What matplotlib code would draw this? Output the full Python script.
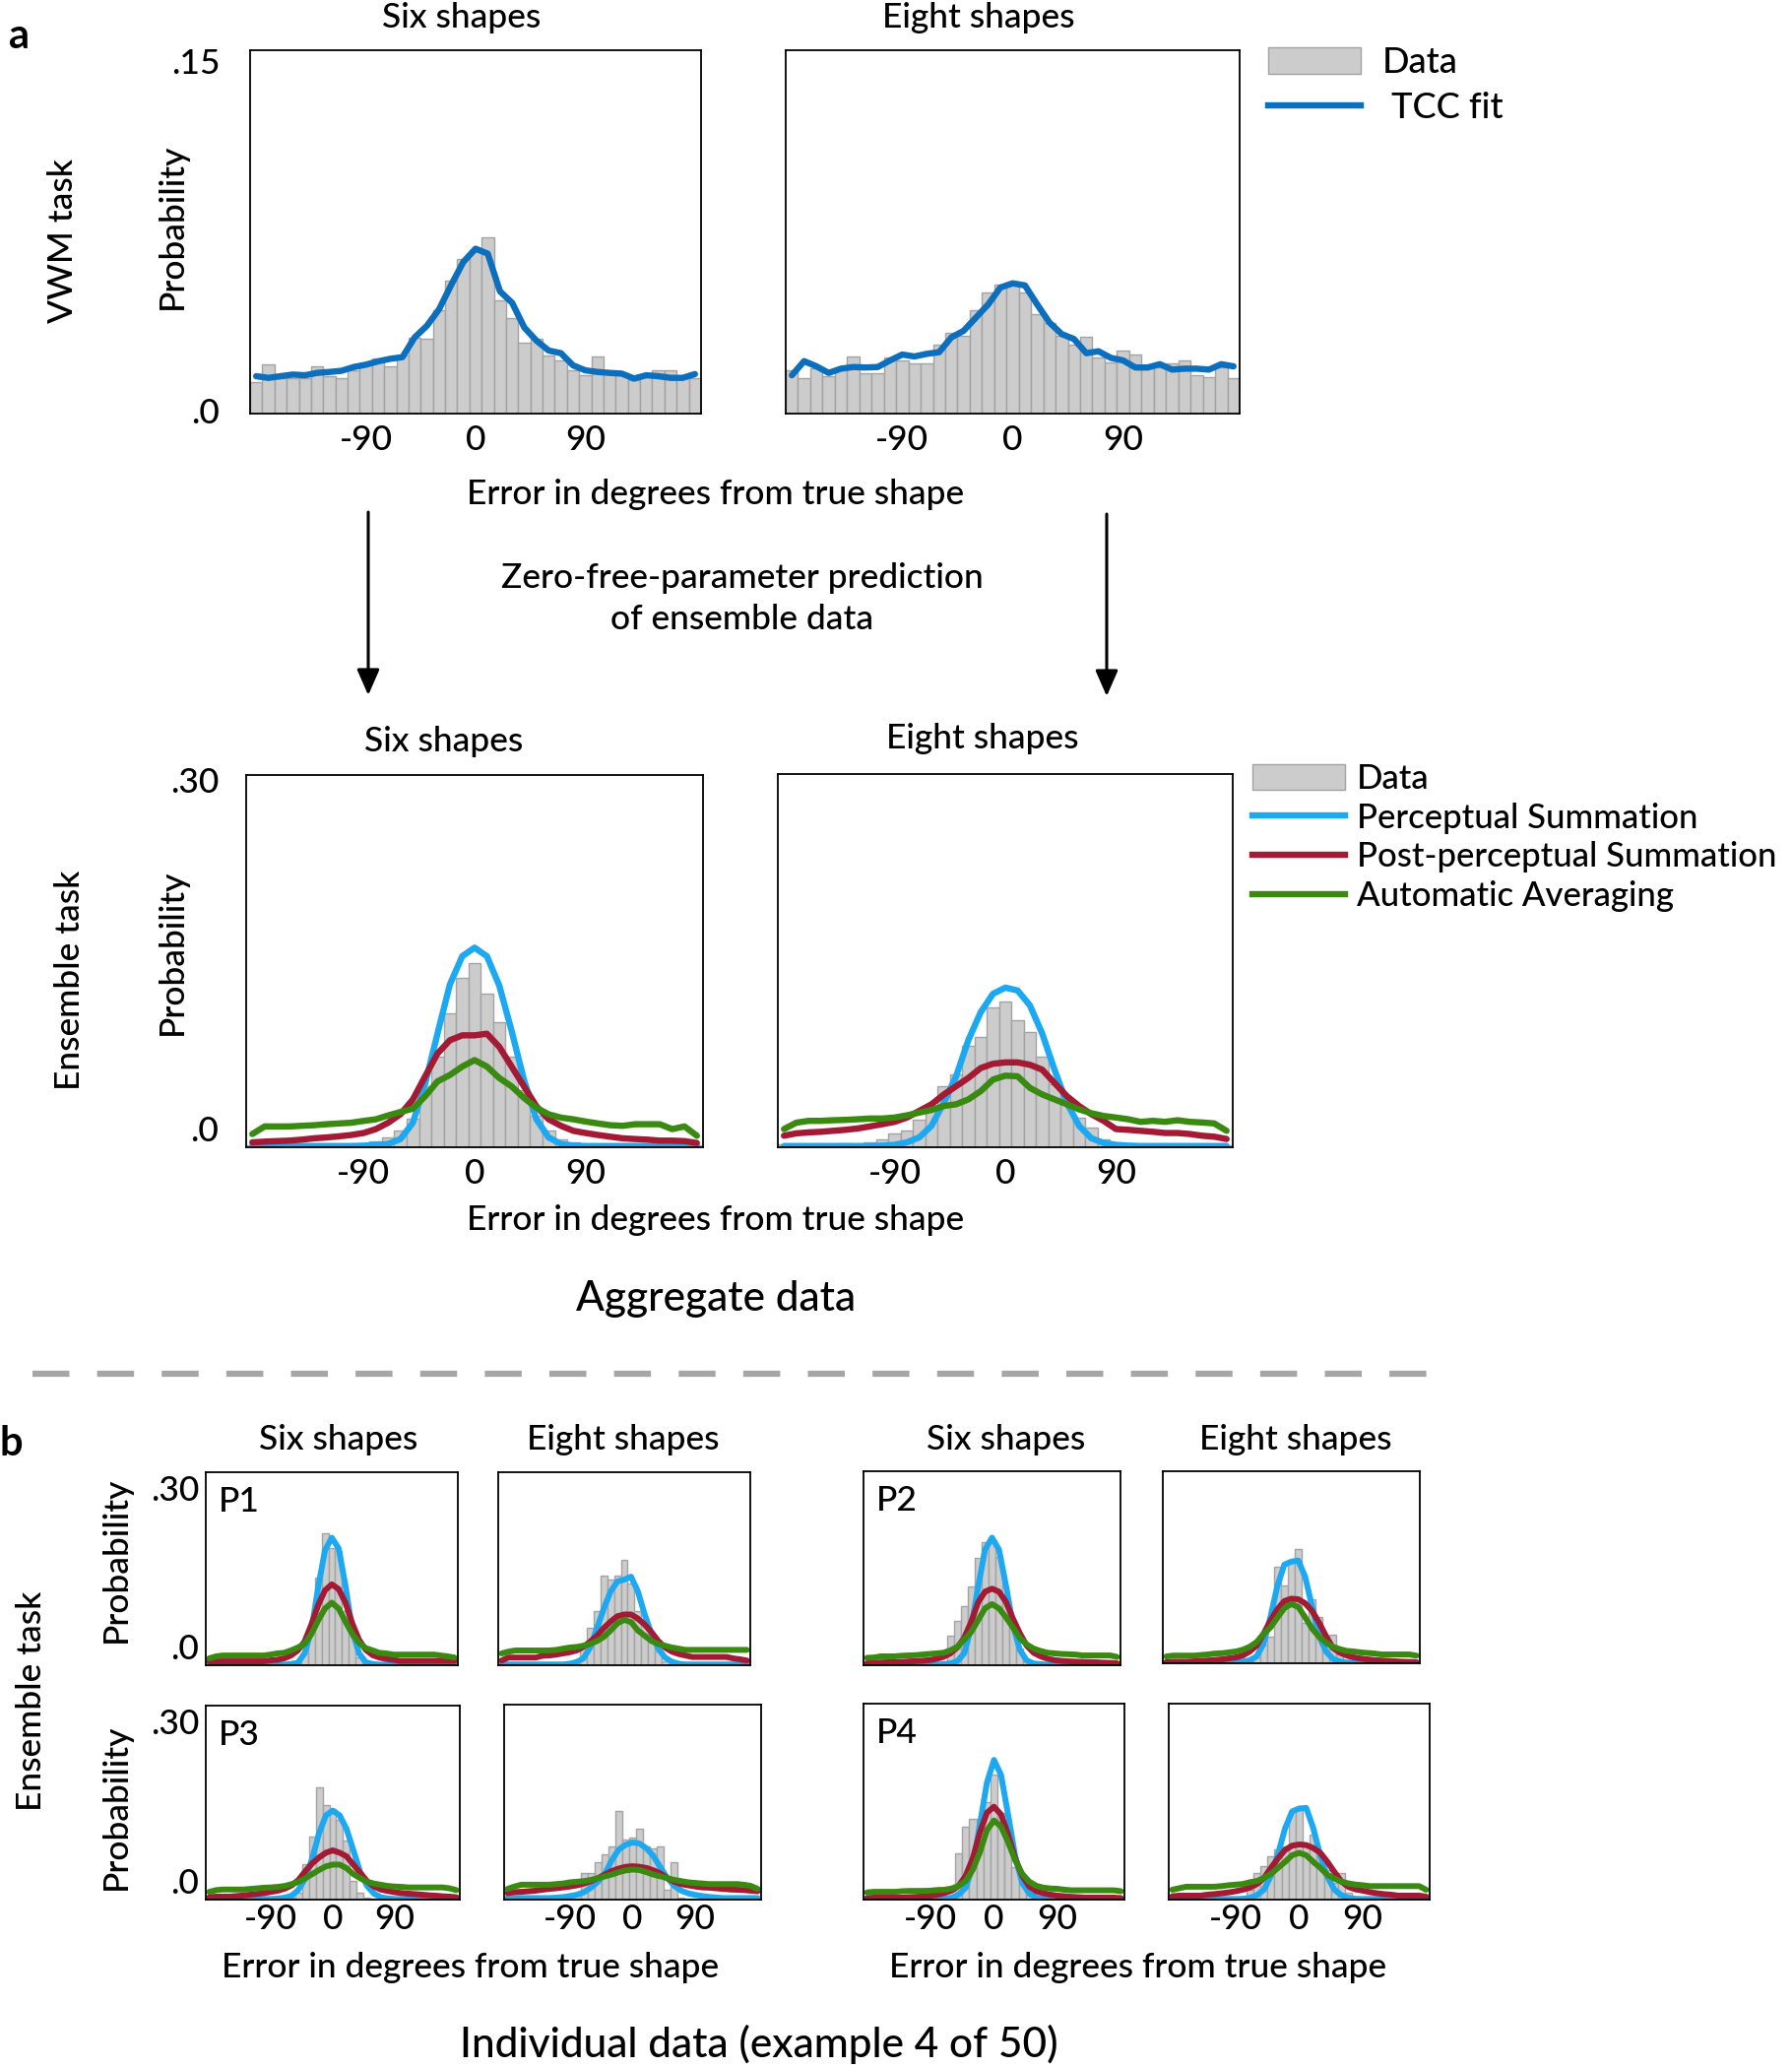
import numpy as np
import matplotlib
matplotlib.use('Agg')
import matplotlib.pyplot as plt
from matplotlib.patches import Patch, FancyArrowPatch
from matplotlib.lines import Line2D

plt.rcParams['font.family'] = ['Lato', 'DejaVu Sans']

# bin centres / model points, degrees of error
angles = np.arange(-180, 190, 10)

# ---- values below are probabilities in percent ----
# a, VWM task
vwm_six_hist = [1.34, 2.09, 1.49, 1.52, 1.52, 2.01, 1.59, 1.49, 1.84, 2.09, 2.33, 2.01, 2.47, 3.24, 3.17, 4.39, 5.64, 6.59, 6.94,
                7.50, 4.80, 4.05, 3.03, 3.17, 2.47, 2.26, 1.84, 1.63, 2.43, 1.70, 1.70, 1.42, 1.63, 1.84, 1.84, 1.59, 1.52]
vwm_six_fit = [1.59, 1.52, 1.59, 1.66, 1.63, 1.73, 1.77, 1.82, 1.98, 2.08, 2.22, 2.33, 2.40, 3.24, 3.73, 4.43, 5.47, 6.45, 7.01,
               6.80, 5.20, 4.71, 3.66, 3.10, 2.68, 2.57, 2.05, 1.84, 1.77, 1.73, 1.70, 1.49, 1.63, 1.59, 1.52, 1.52, 1.68]
vwm_eight_hist = [1.84, 1.49, 1.91, 1.59, 1.91, 2.43, 1.73, 1.73, 2.40, 2.26, 2.15, 2.15, 2.93, 3.45, 3.31, 4.39, 5.15, 5.47, 5.54,
                  5.17, 4.22, 3.87, 3.31, 2.93, 3.27, 2.40, 2.19, 2.68, 2.50, 1.91, 1.98, 2.15, 2.26, 1.65, 1.56, 1.98, 1.49]
vwm_eight_fit = [1.63, 2.23, 2.01, 1.73, 1.91, 1.98, 1.96, 1.98, 2.26, 2.51, 2.43, 2.54, 2.61, 3.24, 3.52, 4.08, 4.64, 5.36, 5.54,
                 5.45, 4.64, 3.87, 3.38, 3.17, 2.57, 2.65, 2.37, 2.26, 1.96, 1.96, 2.10, 1.87, 1.91, 1.91, 1.87, 2.10, 2.01]

# a, ensemble task (aggregate)
ens_six_hist = [0.20, 0.20, 0.15, 0.20, 0.20, 0.20, 0.25, 0.20, 0.25, 0.27, 0.46, 0.80, 1.34, 2.30, 4.97, 7.40, 10.9, 13.8, 15.05,
                12.58, 10.2, 7.40, 4.70, 2.55, 1.34, 0.67, 0.40, 0.27, 0.20, 0.25, 0.20, 0.20, 0.15, 0.20, 0.20, 0.20, 0.20]
ens_six_perc = [0.10, 0.10, 0.10, 0.10, 0.10, 0.10, 0.10, 0.10, 0.10, 0.13, 0.20, 0.27, 0.67, 2.0, 5.2, 9.3, 13.3, 15.6, 16.3,
                15.6, 13.2, 9.5, 5.5, 2.3, 0.80, 0.27, 0.13, 0.10, 0.10, 0.10, 0.10, 0.10, 0.10, 0.10, 0.10, 0.10, 0.10]
ens_six_post = [0.40, 0.46, 0.50, 0.54, 0.62, 0.73, 0.80, 0.89, 1.00, 1.16, 1.48, 2.00, 2.70, 3.90, 5.80, 7.66, 8.74, 9.14, 9.14,
                9.27, 8.20, 6.59, 4.97, 3.36, 2.28, 1.75, 1.34, 1.16, 1.00, 0.86, 0.73, 0.67, 0.62, 0.54, 0.54, 0.50, 0.35]
ens_six_avg = [1.08, 1.70, 1.70, 1.70, 1.75, 1.80, 1.88, 1.94, 2.00, 2.15, 2.28, 2.60, 2.88, 3.15, 4.17, 5.38, 5.90, 6.59, 7.12,
               6.59, 5.65, 4.97, 4.03, 3.23, 2.69, 2.42, 2.28, 2.10, 1.94, 1.80, 1.75, 1.88, 1.88, 1.88, 1.48, 1.70, 0.94]
ens_eight_hist = [0.25, 0.25, 0.20, 0.25, 0.25, 0.30, 0.25, 0.40, 0.67, 1.16, 1.34, 2.28, 3.10, 4.97, 5.90, 8.30, 8.95, 11.4, 11.9,
                  10.35, 9.35, 7.40, 5.10, 3.63, 2.42, 1.61, 0.67, 0.35, 0.20, 0.20, 0.25, 0.20, 0.20, 0.20, 0.15, 0.20, 0.20]
ens_eight_perc = [0.10, 0.10, 0.10, 0.10, 0.10, 0.10, 0.10, 0.10, 0.13, 0.20, 0.40, 0.80, 1.75, 3.63, 5.78, 8.74, 11.0, 12.5, 13.0,
                  12.77, 11.56, 9.27, 6.32, 3.63, 1.75, 0.73, 0.35, 0.20, 0.13, 0.10, 0.10, 0.10, 0.10, 0.10, 0.10, 0.10, 0.10]
ens_eight_post = [0.94, 1.13, 1.21, 1.26, 1.34, 1.42, 1.53, 1.70, 1.88, 2.07, 2.42, 2.96, 3.50, 4.30, 4.97, 5.65, 6.45, 6.80, 6.91,
                  6.91, 6.72, 6.32, 5.24, 4.17, 3.36, 2.69, 2.15, 1.48, 1.42, 1.34, 1.26, 1.16, 1.16, 1.08, 0.94, 0.86, 0.67]
ens_eight_avg = [1.48, 2.00, 2.15, 2.15, 2.20, 2.23, 2.28, 2.34, 2.34, 2.42, 2.60, 2.82, 3.04, 3.36, 3.50, 3.90, 4.57, 5.51, 5.83,
                 5.78, 4.84, 4.30, 3.90, 3.50, 3.09, 2.77, 2.55, 2.42, 2.28, 2.07, 2.15, 2.07, 2.20, 2.07, 2.02, 1.94, 1.34]

# b, individual participants
p1_six_hist = [0.1, 0.1, 0.1, 0.1, 0.1, 0.1, 0.1, 0.1, 0.1, 0.1, 0.1, 0.1, 0.1, 0.3, 2.0, 5.4, 14.9, 22.3, 19.8,
               19.4, 9.2, 4.9, 1.3, 0.3, 0.1, 0.1, 0.1, 0.1, 0.1, 0.1, 0.1, 0.1, 0.1, 0.1, 0.1, 0.1, 0.1]
p1_six_perc = [0.1, 0.1, 0.1, 0.1, 0.1, 0.1, 0.1, 0.1, 0.1, 0.1, 0.1, 0.1, 0.2, 0.4, 2.0, 5.9, 13.2, 19.5, 21.6,
               19.8, 13.5, 5.9, 2.0, 0.5, 0.2, 0.1, 0.1, 0.1, 0.1, 0.1, 0.1, 0.1, 0.1, 0.1, 0.1, 0.1, 0.1]
p1_six_post = [0.66, 0.66, 0.66, 0.66, 0.66, 0.66, 0.66, 0.66, 0.66, 0.83, 0.92, 1.16, 1.65, 2.5, 4.0, 6.9, 10.2, 12.7, 13.7,
               12.9, 10.6, 7.1, 4.3, 2.6, 1.7, 1.3, 1.06, 0.92, 0.73, 0.73, 0.73, 0.73, 0.73, 0.73, 0.73, 0.73, 0.73]
p1_six_avg = [1.16, 1.5, 1.65, 1.65, 1.65, 1.65, 1.65, 1.65, 1.65, 1.8, 2.0, 2.1, 2.5, 3.0, 3.6, 5.3, 7.6, 9.6, 10.6,
              9.6, 7.4, 5.3, 3.8, 2.9, 2.5, 2.1, 2.0, 1.8, 1.8, 1.8, 1.8, 1.8, 1.8, 1.8, 1.65, 1.5, 1.3]
p1_eight_hist = [0.1, 0.1, 0.1, 0.1, 0.1, 0.1, 0.1, 0.1, 0.1, 0.1, 0.1, 0.7, 3.3, 6.3, 9.2, 15.2, 14.5, 15.2, 17.8,
                 13.9, 9.2, 7.4, 4.6, 2.3, 0.7, 0.1, 0.1, 0.1, 0.1, 0.1, 0.1, 0.1, 0.1, 0.1, 0.1, 0.1, 0.1]
p1_eight_perc = [0.13, 0.13, 0.13, 0.13, 0.13, 0.13, 0.13, 0.13, 0.13, 0.13, 0.26, 0.53, 1.16, 3.0, 6.3, 9.6, 12.5, 14.2, 14.5,
                 15.0, 12.5, 8.6, 5.3, 2.8, 1.3, 0.6, 0.26, 0.13, 0.13, 0.13, 0.13, 0.13, 0.13, 0.13, 0.13, 0.13, 0.13]
p1_eight_post = [0.8, 1.3, 1.3, 1.3, 1.3, 1.3, 1.6, 1.65, 1.8, 2.0, 2.2, 2.5, 3.1, 4.0, 5.0, 6.3, 7.4, 8.3, 8.6,
                 8.6, 7.9, 6.9, 5.6, 4.1, 3.0, 2.3, 1.9, 1.65, 1.4, 1.4, 1.4, 1.4, 1.4, 1.4, 1.16, 1.0, 0.8]
p1_eight_avg = [2.0, 2.3, 2.5, 2.5, 2.5, 2.5, 2.5, 2.5, 2.6, 2.8, 3.0, 3.1, 3.3, 3.6, 4.1, 4.8, 5.9, 7.1, 7.7,
                7.3, 5.9, 5.0, 4.1, 3.6, 3.3, 3.0, 2.8, 2.6, 2.6, 2.6, 2.6, 2.6, 2.6, 2.6, 2.6, 2.6, 2.6]

p2_six_hist = [0.1, 0.1, 0.1, 0.1, 0.1, 0.1, 0.1, 0.1, 0.1, 0.1, 0.1, 0.7, 4.9, 7.5, 9.9, 13.2, 18.1, 20.7, 20.7,
               18.2, 10.9, 6.9, 2.9, 0.9, 0.1, 0.1, 0.1, 0.1, 0.1, 0.1, 0.1, 0.1, 0.1, 0.1, 0.1, 0.1, 0.1]
p2_six_perc = [0.1, 0.1, 0.1, 0.1, 0.1, 0.1, 0.1, 0.1, 0.1, 0.1, 0.1, 0.17, 0.3, 0.66, 2.0, 6.3, 13.2, 19.5, 21.5,
               19.5, 13.5, 6.9, 2.6, 0.8, 0.3, 0.17, 0.1, 0.1, 0.1, 0.1, 0.1, 0.1, 0.1, 0.1, 0.1, 0.1, 0.1]
p2_six_post = [0.33, 0.4, 0.46, 0.5, 0.53, 0.56, 0.63, 0.7, 0.76, 0.86, 1.06, 1.4, 2.0, 3.0, 4.6, 7.3, 10.6, 12.4, 12.9,
               12.4, 10.7, 7.9, 5.4, 3.3, 2.1, 1.5, 1.1, 0.86, 0.73, 0.66, 0.6, 0.56, 0.53, 0.5, 0.43, 0.4, 0.33]
p2_six_avg = [1.25, 1.3, 1.5, 1.5, 1.5, 1.6, 1.65, 1.7, 1.8, 1.9, 2.0, 2.1, 2.5, 3.1, 4.3, 5.6, 7.6, 9.6, 10.3,
              9.6, 8.1, 6.4, 4.6, 3.5, 2.8, 2.4, 2.1, 2.0, 1.9, 1.85, 1.8, 1.65, 1.65, 1.65, 1.65, 1.65, 1.4]
p2_eight_hist = [0.1, 0.1, 0.1, 0.1, 0.1, 0.1, 0.1, 0.1, 0.1, 0.1, 0.1, 0.1, 0.3, 1.0, 3.2, 4.6, 16.5, 13.2, 17.6,
                 19.4, 6.9, 10.9, 7.8, 4.3, 4.9, 1.5, 0.3, 0.1, 0.1, 0.1, 0.1, 0.1, 0.1, 0.1, 0.1, 0.1, 0.1]
p2_eight_perc = [0.1, 0.1, 0.1, 0.1, 0.1, 0.1, 0.1, 0.1, 0.1, 0.1, 0.13, 0.26, 0.5, 1.16, 3.3, 7.9, 13.2, 16.8, 17.3,
                 17.5, 14.7, 9.6, 4.6, 2.0, 0.73, 0.3, 0.13, 0.1, 0.1, 0.1, 0.1, 0.1, 0.1, 0.1, 0.1, 0.1, 0.1]
p2_eight_post = [0.2, 0.26, 0.26, 0.26, 0.33, 0.4, 0.46, 0.56, 0.66, 0.83, 1.0, 1.3, 2.0, 3.0, 5.0, 7.3, 9.2, 10.6, 11.0,
                 10.9, 10.2, 8.9, 6.9, 4.6, 2.6, 1.8, 1.3, 1.0, 0.8, 0.66, 0.53, 0.46, 0.4, 0.33, 0.26, 0.23, 0.2]
p2_eight_avg = [1.16, 1.3, 1.3, 1.3, 1.3, 1.4, 1.5, 1.65, 1.7, 1.85, 2.0, 2.3, 2.8, 3.6, 5.0, 6.1, 7.8, 9.4, 10.1,
                9.6, 7.8, 5.9, 4.5, 3.5, 2.8, 2.4, 2.1, 2.0, 1.85, 1.75, 1.65, 1.5, 1.5, 1.5, 1.5, 1.5, 1.3]

p3_six_hist = [0.1, 0.1, 0.1, 0.1, 0.1, 0.1, 0.1, 0.1, 0.1, 0.1, 0.1, 0.1, 0.3, 1.2, 5.9, 10.6, 19.0, 16.0, 15.3,
               13.4, 9.9, 3.2, 1.2, 0.3, 0.1, 0.1, 0.1, 0.1, 0.1, 0.1, 0.1, 0.1, 0.1, 0.1, 0.1, 0.1, 0.1]
p3_six_perc = [0.1, 0.1, 0.1, 0.1, 0.1, 0.1, 0.1, 0.1, 0.1, 0.1, 0.17, 0.33, 0.66, 1.65, 3.6, 6.9, 11.2, 14.2, 15.0,
               14.2, 11.9, 8.3, 4.6, 2.3, 1.0, 0.4, 0.2, 0.1, 0.1, 0.1, 0.1, 0.1, 0.1, 0.1, 0.1, 0.1, 0.1]
p3_six_post = [0.4, 0.5, 0.5, 0.5, 0.6, 0.7, 0.83, 0.96, 1.1, 1.3, 1.5, 1.85, 2.4, 3.3, 4.8, 6.1, 7.1, 7.9, 8.3,
               7.9, 7.3, 5.9, 4.5, 3.1, 2.2, 1.7, 1.45, 1.25, 1.1, 1.0, 0.92, 0.83, 0.73, 0.66, 0.56, 0.5, 0.4]
p3_six_avg = [1.3, 1.6, 1.7, 1.7, 1.7, 1.7, 1.8, 1.9, 2.0, 2.05, 2.15, 2.3, 2.6, 3.0, 3.6, 4.3, 5.0, 5.6, 5.9,
              5.9, 5.3, 4.3, 3.6, 3.0, 2.7, 2.5, 2.3, 2.2, 2.15, 2.05, 2.05, 2.05, 2.05, 2.05, 2.05, 1.9, 1.6]
p3_eight_hist = [0.1, 0.1, 0.1, 0.1, 0.1, 0.1, 0.1, 0.1, 0.1, 0.1, 0.7, 4.5, 4.5, 6.3, 7.6, 9.0, 14.9, 10.1, 10.4,
                 11.9, 8.9, 8.6, 8.9, 1.65, 6.2, 0.3, 0.1, 0.1, 0.1, 0.1, 0.1, 0.1, 0.1, 0.1, 0.1, 0.1, 0.1]
p3_eight_perc = [0.26, 0.26, 0.26, 0.26, 0.26, 0.26, 0.26, 0.33, 0.43, 0.6, 0.83, 1.25, 2.0, 3.0, 4.3, 6.6, 8.4, 9.2, 9.6,
                 9.4, 8.6, 7.3, 5.4, 3.6, 2.3, 1.5, 1.06, 0.8, 0.6, 0.46, 0.36, 0.26, 0.26, 0.26, 0.26, 0.26, 0.26]
p3_eight_post = [1.1, 1.25, 1.3, 1.4, 1.5, 1.65, 1.8, 1.9, 2.05, 2.2, 2.4, 2.7, 3.1, 3.6, 4.2, 4.8, 5.2, 5.5, 5.6,
                 5.5, 5.3, 4.9, 4.4, 3.6, 3.0, 2.6, 2.4, 2.2, 2.05, 2.0, 1.9, 1.8, 1.7, 1.65, 1.6, 1.5, 1.4]
p3_eight_avg = [1.8, 2.2, 2.5, 2.5, 2.5, 2.5, 2.5, 2.6, 2.7, 2.9, 3.0, 3.1, 3.3, 3.6, 3.9, 4.2, 4.6, 4.9, 5.05,
                4.95, 4.6, 4.2, 3.9, 3.6, 3.3, 3.1, 2.9, 2.8, 2.7, 2.6, 2.6, 2.6, 2.6, 2.6, 2.5, 2.3, 1.8]

p4_six_hist = [0.1, 0.1, 0.1, 0.1, 0.1, 0.1, 0.1, 0.1, 0.1, 0.1, 0.1, 0.1, 0.7, 7.8, 12.2, 13.5, 9.2, 16.2, 20.8,
               14.4, 9.9, 5.5, 2.8, 0.8, 0.3, 0.1, 0.1, 0.1, 0.1, 0.1, 0.1, 0.1, 0.1, 0.1, 0.1, 0.1, 0.1]
p4_six_perc = [0.1, 0.1, 0.1, 0.1, 0.1, 0.1, 0.1, 0.1, 0.1, 0.1, 0.1, 0.13, 0.33, 0.83, 2.0, 5.6, 12.5, 19.5, 23.3,
               20.8, 14.2, 7.3, 2.8, 1.0, 0.33, 0.13, 0.1, 0.1, 0.1, 0.1, 0.1, 0.1, 0.1, 0.1, 0.1, 0.1, 0.1]
p4_six_post = [0.26, 0.33, 0.33, 0.33, 0.33, 0.33, 0.4, 0.46, 0.56, 0.66, 0.83, 1.1, 1.5, 2.3, 4.0, 6.9, 11.2, 14.5, 15.5,
               14.2, 10.9, 6.9, 4.0, 2.2, 1.4, 1.06, 0.83, 0.66, 0.56, 0.46, 0.4, 0.33, 0.33, 0.33, 0.33, 0.33, 0.26]
p4_six_avg = [1.2, 1.3, 1.3, 1.3, 1.3, 1.4, 1.45, 1.45, 1.45, 1.5, 1.6, 1.65, 1.85, 2.3, 3.1, 5.0, 7.9, 11.6, 13.2,
              12.2, 9.6, 6.6, 4.3, 3.0, 2.3, 2.0, 1.85, 1.8, 1.65, 1.55, 1.55, 1.55, 1.55, 1.55, 1.55, 1.55, 1.4]
p4_eight_hist = [0.1, 0.1, 0.1, 0.1, 0.1, 0.1, 0.1, 0.1, 0.1, 0.1, 0.56, 1.65, 4.5, 5.6, 7.3, 8.4, 8.9, 14.8, 14.9,
                 8.9, 10.9, 7.3, 5.0, 2.8, 4.5, 1.1, 0.3, 0.1, 0.1, 0.1, 0.1, 0.1, 0.1, 0.1, 0.1, 0.1, 0.1]
p4_eight_perc = [0.1, 0.1, 0.1, 0.1, 0.1, 0.1, 0.1, 0.1, 0.1, 0.1, 0.13, 0.3, 0.73, 1.65, 4.0, 7.6, 11.9, 14.7, 15.2,
                 15.3, 11.9, 7.3, 3.8, 1.65, 0.73, 0.3, 0.13, 0.1, 0.1, 0.1, 0.1, 0.1, 0.1, 0.1, 0.1, 0.1, 0.1]
p4_eight_post = [0.56, 0.66, 0.66, 0.66, 0.66, 0.83, 0.92, 1.06, 1.2, 1.4, 1.65, 2.0, 2.6, 3.6, 5.3, 6.9, 8.3, 9.0, 9.2,
                 9.1, 8.6, 7.8, 6.3, 4.6, 3.0, 2.1, 1.7, 1.5, 1.25, 1.06, 0.92, 0.83, 0.66, 0.66, 0.66, 0.66, 0.5]
p4_eight_avg = [1.65, 1.9, 2.15, 2.15, 2.15, 2.15, 2.15, 2.25, 2.4, 2.5, 2.6, 2.9, 3.1, 3.6, 4.3, 5.3, 6.3, 7.4, 7.8,
                7.4, 6.3, 5.3, 4.1, 3.5, 3.0, 2.7, 2.5, 2.4, 2.25, 2.25, 2.25, 2.25, 2.25, 2.25, 2.25, 2.25, 1.65]

x_ticks = [-90, 0, 90]
x_ticklabels = ['-90', '0', '90']

BAR_FACE = '#cccccc'
BAR_EDGE = '#a3a3a3'
TCC = '#0b6fbd'
PERC = '#1ca9f2'
POST = '#a31a34'
AVG = '#3a8a12'

W, H = 1820, 2100
fig = plt.figure(figsize=(W / 100, H / 100), dpi=100)

FS = 25.5
FW = 500


def rect(x0, x1, y0, y1):
    return [x0 / W, 1 - y1 / H, (x1 - x0) / W, (y1 - y0) / H]


def ftext(x, y, s, **kw):
    kw.setdefault('ha', 'center')
    kw.setdefault('va', 'center')
    kw.setdefault('fontweight', FW)
    fig.text(x / W, 1 - y / H, s, **kw)


def panel(r, hist, curves, ymax, ylab, lw, xpad, ypad, showx=True):
    ax = fig.add_axes(r)
    ax.bar(angles, np.array(hist) / 100, width=10, color=BAR_FACE,
           edgecolor=BAR_EDGE, linewidth=1.0)
    for vals, col in curves:
        ax.plot(angles, np.array(vals) / 100, color=col, lw=lw,
                solid_joinstyle='round', solid_capstyle='round')
    ax.set_xlim(-185, 185)
    ax.set_ylim(0, ymax)
    if showx:
        ax.set_xticks(x_ticks)
        ax.set_xticklabels(x_ticklabels, fontsize=FS, fontweight=FW)
    else:
        ax.set_xticks([])
    if ylab:
        ax.set_yticks([0, ylab[0]])
        ax.set_yticklabels(['.0', ylab[1]], fontsize=FS, fontweight=FW)
        ax.get_yticklabels()[0].set_verticalalignment(ylab[2])
    else:
        ax.set_yticks([])
    ax.tick_params(length=0)
    ax.tick_params(axis='x', pad=xpad)
    ax.tick_params(axis='y', pad=ypad)
    for s in ax.spines.values():
        s.set_linewidth(1.3)
    return ax


# ---- a: VWM ----
panel(rect(254, 712, 51, 420), vwm_six_hist, [(vwm_six_fit, TCC)], 0.1545,
      (0.15, '.15', 'center'), 4.6, 8, 22)
panel(rect(798, 1259, 51, 420), vwm_eight_hist, [(vwm_eight_fit, TCC)], 0.1545,
      None, 4.6, 8, 22)

# ---- a: ensemble aggregate ----
panel(rect(250, 714, 787, 1165), ens_six_hist,
      [(ens_six_perc, PERC), (ens_six_post, POST), (ens_six_avg, AVG)], 0.304,
      (0.30, '.30', 'bottom'), 4.6, 8, 20)
panel(rect(790, 1252, 786, 1165), ens_eight_hist,
      [(ens_eight_perc, PERC), (ens_eight_post, POST), (ens_eight_avg, AVG)], 0.304,
      None, 4.6, 8, 20)

# ---- b: individuals ----
b_panels = [
    (rect(209, 465, 1495, 1691), p1_six_hist, p1_six_perc, p1_six_post, p1_six_avg, True, False, 'P1'),
    (rect(506, 762, 1495, 1691), p1_eight_hist, p1_eight_perc, p1_eight_post, p1_eight_avg, False, False, None),
    (rect(877, 1138, 1494, 1691), p2_six_hist, p2_six_perc, p2_six_post, p2_six_avg, False, False, 'P2'),
    (rect(1181, 1442, 1494, 1689), p2_eight_hist, p2_eight_perc, p2_eight_post, p2_eight_avg, False, False, None),
    (rect(209, 467, 1732, 1929), p3_six_hist, p3_six_perc, p3_six_post, p3_six_avg, True, True, 'P3'),
    (rect(512, 773, 1731, 1929), p3_eight_hist, p3_eight_perc, p3_eight_post, p3_eight_avg, False, True, None),
    (rect(877, 1142, 1730, 1929), p4_six_hist, p4_six_perc, p4_six_post, p4_six_avg, False, True, 'P4'),
    (rect(1187, 1452, 1730, 1929), p4_eight_hist, p4_eight_perc, p4_eight_post, p4_eight_avg, False, True, None),
]
for r, h, c1, c2, c3, showy, showx, tag in b_panels:
    ax = panel(r, h, [(c1, PERC), (c2, POST), (c3, AVG)], 0.327,
               (0.30, '.30', 'bottom') if showy else None, 4.3, 3, 5, showx)
    if tag:
        ax.text(0.05, 0.93, tag, transform=ax.transAxes, ha='left', va='top',
                fontsize=FS, fontweight=FW)

# ---- legends ----
fig.legend([Patch(facecolor=BAR_FACE, edgecolor=BAR_EDGE), Line2D([], [], color=TCC, lw=4.6)],
           ['Data', ' TCC fit'], loc='upper left', bbox_to_anchor=(1288 / W, 1 - 47 / H),
           frameon=False, prop={'size': 26, 'weight': FW}, handlelength=2.6, handleheight=0.75,
           labelspacing=0.36, handletextpad=0.6, borderpad=0, borderaxespad=0)
fig.legend([Patch(facecolor=BAR_FACE, edgecolor=BAR_EDGE), Line2D([], [], color=PERC, lw=4.6),
            Line2D([], [], color=POST, lw=4.6), Line2D([], [], color=AVG, lw=4.6)],
           ['Data', 'Perceptual Summation', 'Post-perceptual Summation', 'Automatic Averaging'],
           loc='upper left', bbox_to_anchor=(1272 / W, 1 - 775 / H),
           frameon=False, prop={'size': 25, 'weight': FW}, handlelength=2.7, handleheight=0.75,
           labelspacing=0.22, handletextpad=0.35, borderpad=0, borderaxespad=0)

# ---- texts ----
ftext(19, 37, 'a', fontsize=30, fontweight='bold')
ftext(11, 1466, 'b', fontsize=30, fontweight='bold')
ftext(469, 18, 'Six shapes', fontsize=FS)
ftext(994, 18, 'Eight shapes', fontsize=FS)
ftext(64, 245, 'VWM task', fontsize=FS, rotation=90)
ftext(175, 230, 'Probability', fontsize=FS, rotation=90)
ftext(727, 502, 'Error in degrees from true shape', fontsize=FS)
ftext(754, 608, 'Zero-free-parameter prediction\nof ensemble data', fontsize=FS, linespacing=1.35)
ftext(451, 753, 'Six shapes', fontsize=FS)
ftext(998, 750, 'Eight shapes', fontsize=FS)
ftext(71, 995, 'Ensemble task', fontsize=FS, rotation=90)
ftext(175, 967, 'Probability', fontsize=FS, rotation=90)
ftext(727, 1239, 'Error in degrees from true shape', fontsize=FS)
ftext(727, 1319, 'Aggregate data', fontsize=30.5)

for x, s in [(344, 'Six shapes'), (633, 'Eight shapes'), (1022, 'Six shapes'), (1316, 'Eight shapes')]:
    ftext(x, 1462, s, fontsize=FS)
ftext(32, 1727, 'Ensemble task', fontsize=FS, rotation=90)
ftext(118, 1584, 'Probability', fontsize=FS, rotation=90)
ftext(118, 1835, 'Probability', fontsize=FS, rotation=90)
ftext(478, 1998, 'Error in degrees from true shape', fontsize=FS)
ftext(1156, 1998, 'Error in degrees from true shape', fontsize=FS)
ftext(771, 2076, 'Individual data (example 4 of 50)', fontsize=30.5)

# arrows and separator
for xa, y0, y1 in [(374, 520, 706), (1124, 522, 707)]:
    fig.add_artist(FancyArrowPatch((xa / W, 1 - y0 / H), (xa / W, 1 - y1 / H),
                                   transform=fig.transFigure, color='black', lw=2.2,
                                   arrowstyle='-|>,head_length=0.8,head_width=0.35',
                                   mutation_scale=20, shrinkA=0, shrinkB=0))
fig.add_artist(Line2D([33 / W, 1450 / W], [1 - 1395 / H, 1 - 1395 / H], transform=fig.transFigure,
                      color='#a6a6a6', lw=4.5, dashes=(6, 4.5)))

fig.savefig('out.png', dpi=100)
